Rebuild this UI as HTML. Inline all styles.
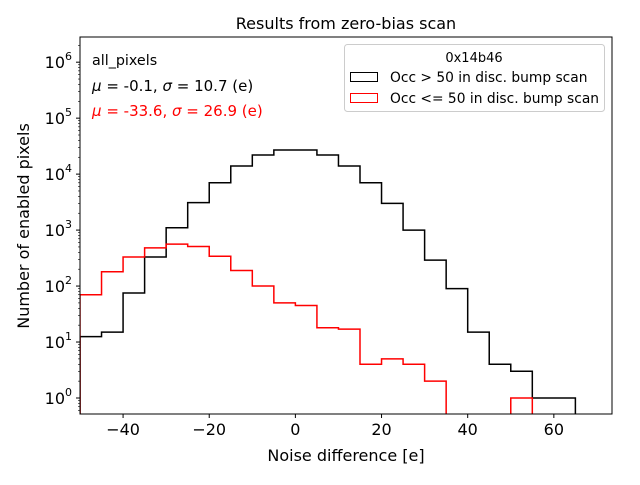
<!DOCTYPE html>
<html><head><meta charset="utf-8"><style>
body{margin:0;background:#fff}
svg text{font-family:"DejaVu Sans","Liberation Sans",sans-serif}
</style></head><body>
<svg id="c" width="640" height="480" xmlns="http://www.w3.org/2000/svg">
<rect width="640" height="480" fill="#fff"/>
<text x="346" y="29" text-anchor="middle" font-size="16">Results from zero-bias scan</text>
<g id="plot"></g>
<text x="346" y="461" text-anchor="middle" font-size="16">Noise difference [e]</text>
<text transform="translate(29,226) rotate(-90)" text-anchor="middle" font-size="16">Number of enabled pixels</text>
<text x="92" y="65" font-size="14.3">all_pixels</text>
<text x="92" y="91" font-size="15"><tspan font-style="italic">μ</tspan> = -0.1, <tspan font-style="italic">σ</tspan> = 10.7 (e)</text>
<text x="92" y="116" font-size="15" fill="red"><tspan font-style="italic">μ</tspan> = -33.6, <tspan font-style="italic">σ</tspan> = 26.9 (e)</text>
<g>
<rect x="344.5" y="44.5" width="260" height="67" rx="3" fill="#fff" fill-opacity="0.8" stroke="#ccc"/>
<text x="474" y="62" text-anchor="middle" font-size="13">0x14b46</text>
<rect x="350.5" y="72.5" width="27" height="9" fill="none" stroke="#000"/>
<text x="390" y="82" font-size="13.8">Occ &gt; 50 in disc. bump scan</text>
<rect x="350.5" y="93.5" width="27" height="9" fill="none" stroke="red"/>
<text x="390" y="103" font-size="13.8">Occ &lt;= 50 in disc. bump scan</text>
</g>
</svg>
<script>
const binEdgesStart = -50;
const binWidth = 5;
const blackCounts = [12.5,15,75,330,1100,3100,7000,14000,22000,27000,27000,22000,14000,7000,3000,1000,290,90,15,4,3,1,1];
const redCounts = [70,180,330,480,560,510,340,190,100,50,45,18,17,4,5,4,2,0,0,0,1,0];
const xTicks = [-40,-20,0,20,40,60];
const yTickExps = [0,1,2,3,4,5,6];

const L=80,R=612,T=37,B=414;
const xMin=-50,xMax=73.5, yMinL=-0.286, yMaxL=6.45;
const xs=v=>L+(v-xMin)/(xMax-xMin)*(R-L);
const ys=v=>v<=0?B+5:B-(Math.log10(v)-yMinL)/(yMaxL-yMinL)*(B-T);
const NS="http://www.w3.org/2000/svg";
const g=document.getElementById('plot');
function mk(t,a){const e=document.createElementNS(NS,t);for(const k in a)e.setAttribute(k,a[k]);g.appendChild(e);return e;}
const cp=mk('clipPath',{id:'cl'});
const cr=document.createElementNS(NS,'rect');cr.setAttribute('x',L);cr.setAttribute('y',T);cr.setAttribute('width',R-L);cr.setAttribute('height',B-T);cp.appendChild(cr);
function stepPath(counts){
  let d='M'+xs(binEdgesStart)+','+(B+5);
  counts.forEach((c,i)=>{const x0=xs(binEdgesStart+i*binWidth),x1=xs(binEdgesStart+(i+1)*binWidth);const y=ys(c);d+=' L'+x0+','+y+' L'+x1+','+y;});
  d+=' L'+xs(binEdgesStart+counts.length*binWidth)+','+(B+5);
  return d;
}
const pb=mk('path',{d:stepPath(blackCounts),fill:'none',stroke:'#000','stroke-width':1.5,'clip-path':'url(#cl)'});


const pr=mk('path',{d:stepPath(redCounts),fill:'none',stroke:'red','stroke-width':1.5,'clip-path':'url(#cl)'});


const fr=mk('rect',{x:L,y:T,width:R-L,height:B-T,fill:'none',stroke:'#000','stroke-width':1});


xTicks.forEach(v=>{const x=xs(v);mk('line',{x1:x,x2:x,y1:B,y2:B+4,stroke:'#000'});
 const t=mk('text',{x:x,y:B+21,'text-anchor':'middle','font-size':16});t.textContent=(v<0?'−':'')+Math.abs(v);
 
 });
yTickExps.forEach(e=>{const y=ys(Math.pow(10,e));mk('line',{x1:L-4,x2:L,y1:y,y2:y,stroke:'#000'});
 const t=mk('text',{x:L-8,y:y+6,'text-anchor':'end','font-size':16});
 t.innerHTML='10<tspan dy="-8" font-size="11">'+e+'</tspan>';
 
 
 for(let m=2;m<10;m++){const v=m*Math.pow(10,e);const yy=ys(v);if(yy>=T&&yy<=B)mk('line',{x1:L-2,x2:L,y1:yy,y2:yy,stroke:'#000','stroke-width':0.6});}
});
for(let m=5;m<10;m++){const yy=ys(m*0.1);if(yy<=B)mk('line',{x1:L-2,x2:L,y1:yy,y2:yy,stroke:'#000','stroke-width':0.6});}
</script>
</body></html>
